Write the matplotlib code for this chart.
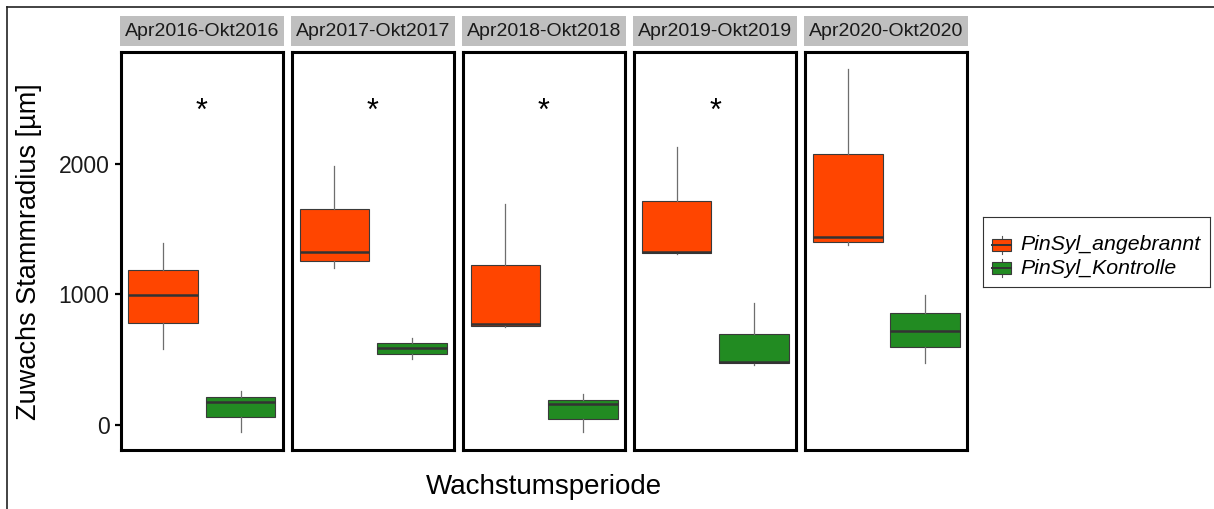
import matplotlib
matplotlib.use("Agg")
import matplotlib.pyplot as plt
from matplotlib.patches import Rectangle
from matplotlib.lines import Line2D

plt.rcParams['font.family'] = ['Liberation Sans', 'DejaVu Sans']

# ---------------- data ----------------
periods = ["Apr2016-Okt2016", "Apr2017-Okt2017", "Apr2018-Okt2018",
           "Apr2019-Okt2019", "Apr2020-Okt2020"]
groups = ["PinSyl_angebrannt", "PinSyl_Kontrolle"]
colors = ["#FF4500", "#228B22"]

# angebrannt (burnt)
burn_whislo = [576, 1200, 750, 1310, 1378]
burn_q1     = [780, 1258, 760, 1314, 1403]
burn_med    = [991, 1324, 775, 1324, 1437]
burn_q3     = [1187, 1650, 1223, 1716, 2078]
burn_whishi = [1391, 1983, 1691, 2128, 2731]

# Kontrolle (control)
ctrl_whislo = [-60, 500, -60, 454, 469]
ctrl_q1     = [55, 538, 42, 469, 597]
ctrl_med    = [174, 589, 156, 482, 721]
ctrl_q3     = [215, 627, 189, 698, 857]
ctrl_whishi = [258, 666, 233, 933, 996]

signif = ["*", "*", "*", "*", ""]
signif_y = 2400

yticks = [0, 1000, 2000]
ylim = (-195, 2858)

# ---------------- layout ----------------
W, H = 1214, 509
fig = plt.figure(figsize=(W / 100, H / 100), dpi=100)
fig.patch.set_facecolor("white")


def fx(px):
    return px / W


def fy(py):
    return 1 - py / H


panel_left0 = 120.5
panel_step = 171.1
panel_w = 162.5
panel_top = 52.0
panel_bot = 450.0

strip_top = 16.0
strip_bot = 45.5

for i, per in enumerate(periods):
    left = panel_left0 + i * panel_step
    ax = fig.add_axes([fx(left), fy(panel_bot), panel_w / W, (panel_bot - panel_top) / H])
    stats = [
        dict(med=burn_med[i], q1=burn_q1[i], q3=burn_q3[i],
             whislo=burn_whislo[i], whishi=burn_whishi[i], fliers=[]),
        dict(med=ctrl_med[i], q1=ctrl_q1[i], q3=ctrl_q3[i],
             whislo=ctrl_whislo[i], whishi=ctrl_whishi[i], fliers=[]),
    ]
    bp = ax.bxp(stats, positions=[0, 1], widths=0.9, patch_artist=True,
                showcaps=False, showfliers=False,
                boxprops=dict(edgecolor="#3a3a3a", linewidth=0.8),
                medianprops=dict(color="#333333", linewidth=1.8),
                whiskerprops=dict(color="#6e6e6e", linewidth=0.9))
    for patch, c in zip(bp['boxes'], colors):
        patch.set_facecolor(c)
    ax.set_xlim(-0.553, 1.547)
    ax.set_ylim(*ylim)
    ax.set_xticks([])
    for sp in ax.spines.values():
        sp.set_linewidth(2.2)
        sp.set_color("black")
    if i == 0:
        ax.set_yticks(yticks)
        ax.set_yticklabels([str(t) for t in yticks], fontsize=16.5, color="#1a1a1a")
        ax.tick_params(axis='y', length=4, width=1.6, pad=4, color="black")
    else:
        ax.set_yticks([])
    if signif[i]:
        ax.text(0.5, signif_y, signif[i], ha='center', va='center', fontsize=22,
                transform=ax.get_yaxis_transform(), color="black")

    # strip
    sax = fig.add_axes([fx(left - 1), fy(strip_bot), (panel_w + 2) / W, (strip_bot - strip_top) / H])
    sax.set_facecolor("#BFBFBF")
    for sp in sax.spines.values():
        sp.set_visible(False)
    sax.set_xticks([])
    sax.set_yticks([])
    sax.text(0.5, 0.48, per, ha='center', va='center', fontsize=14, color="#1a1a1a",
             transform=sax.transAxes)

# axis labels
fig.text(fx(29), fy(252), "Zuwachs Stammradius [\u00b5m]", rotation=90,
         ha='center', va='center', fontsize=19.5, color="black")
fig.text(fx(543.5), fy(487), "Wachstumsperiode", ha='center', va='center',
         fontsize=20, color="black")

# legend (drawn manually)
lax = fig.add_axes([fx(983), fy(287), (1210 - 983) / W, (287 - 217) / H])
lax.set_xlim(983, 1210)
lax.set_ylim(287, 217)
lax.set_xticks([])
lax.set_yticks([])
for sp in lax.spines.values():
    sp.set_linewidth(0.8)
    sp.set_color("#333333")
legend_rows_y = [245, 268]
for gname, c, yc in zip(groups, colors, legend_rows_y):
    lax.add_line(Line2D([1001.5, 1001.5], [yc - 9, yc + 9], color="#555555", lw=0.8))
    lax.add_patch(Rectangle((992, yc - 6), 19, 12, facecolor=c,
                            edgecolor="#3a3a3a", lw=0.8, zorder=3))
    lax.add_line(Line2D([992, 1011], [yc, yc], color="#333333", lw=1.4, zorder=4))
    lax.text(1020, yc, gname, ha='left', va='center', fontsize=15.3, style='italic',
             color="black")

# outer border (top and left)
fig.add_artist(Line2D([fx(7), 1], [fy(7), fy(7)], color="#222222", lw=1.2))
fig.add_artist(Line2D([fx(7), fx(7)], [fy(7), 0], color="#222222", lw=1.2))

fig.savefig("out.png", dpi=100)
